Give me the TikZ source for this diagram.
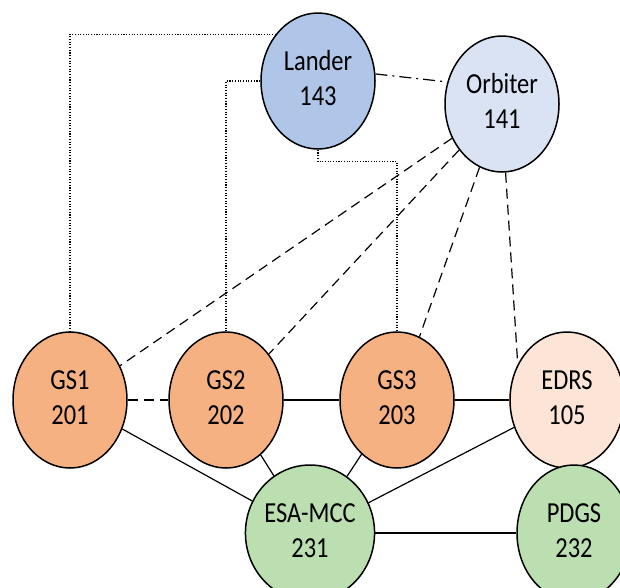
\documentclass[tikz,border=0pt]{standalone}
\usepackage{fontspec}
\usepackage{graphicx}
\setmainfont{Carlito}
\usetikzlibrary{shapes.geometric}

\definecolor{landerfill}{HTML}{AFC6E8}
\definecolor{orbiterfill}{HTML}{DAE3F3}
\definecolor{gsfill}{HTML}{F6B183}
\definecolor{edrsfill}{HTML}{FCE4D6}
\definecolor{groundfill}{HTML}{BCDFB1}

% two-line station label, stretched vertically like the ellipses
\newcommand\stationtext[2]{\scalebox{1.02}[1.21]{\begin{tabular}{@{}c@{}}#1\\#2\end{tabular}}}

\tikzset{
  station/.style={ellipse, draw=black, line width=1.5pt,
    minimum width=114pt, minimum height=136pt, inner sep=0pt,
    font=\fontsize{24}{28.5}\selectfont},
  solidlink/.style={line width=1.2pt},
  dotlink/.style={line width=1.1pt, dash pattern=on 1.1pt off 1.6pt},
  dashlink/.style={line width=1.2pt, dash pattern=on 10pt off 6pt},
  dashdotlink/.style={line width=1.2pt, dash pattern=on 12pt off 5pt on 2pt off 5pt}
}

\begin{document}
\begin{tikzpicture}[x=1pt, y=-1pt]
\useasboundingbox (0,0) rectangle (620,587);
\clip (0,0) rectangle (620,587);

% stations
\node[station, fill=landerfill]  (lander)  at (318,81)  {\stationtext{Lander}{143}};
\node[station, fill=orbiterfill] (orbiter) at (502,104) {\stationtext{Orbiter}{141}};
\node[station, fill=gsfill]      (gs1)     at (70,400)  {\stationtext{GS1}{201}};
\node[station, fill=gsfill]      (gs2)     at (226,400) {\stationtext{GS2}{202}};
\node[station, fill=gsfill]      (gs3)     at (397,400) {\stationtext{GS3}{203}};
\node[station, fill=edrsfill]    (edrs)    at (567,400) {\stationtext{EDRS}{105}};
\node[station, fill=groundfill]  (esamcc)  at (310,533) {\stationtext{ESA-MCC}{231}};
\node[station, fill=groundfill]  (pdgs)    at (574,533) {\stationtext{PDGS}{232}};

% lander links to the ground stations
\draw[dotlink] (lander.132) -| (gs1.north);
\draw[dotlink] (lander.west) -| (gs2.north);
\draw[dotlink] (lander.south) -- ++(0,12) -| (gs3.north);

% lander to orbiter relay
\draw[dashdotlink] (lander.7) -- (orbiter.158);

% orbiter links
\draw[dashlink] (orbiter) -- (gs1);
\draw[dashlink] (orbiter) -- (gs2);
\draw[dashlink] (orbiter) -- (gs3);
\draw[dashlink] (orbiter.-87) -- (edrs.144);

% ground segment
\draw[dashlink] (gs1) -- (gs2);
\draw[solidlink] (gs2) -- (gs3);
\draw[solidlink] (gs3) -- (edrs);
\draw[solidlink] (gs1) -- (esamcc);
\draw[solidlink] (gs2) -- (esamcc);
\draw[solidlink] (gs3) -- (esamcc);
\draw[solidlink] (edrs) -- (esamcc);
\draw[solidlink] (esamcc) -- (pdgs);
\end{tikzpicture}
\end{document}
